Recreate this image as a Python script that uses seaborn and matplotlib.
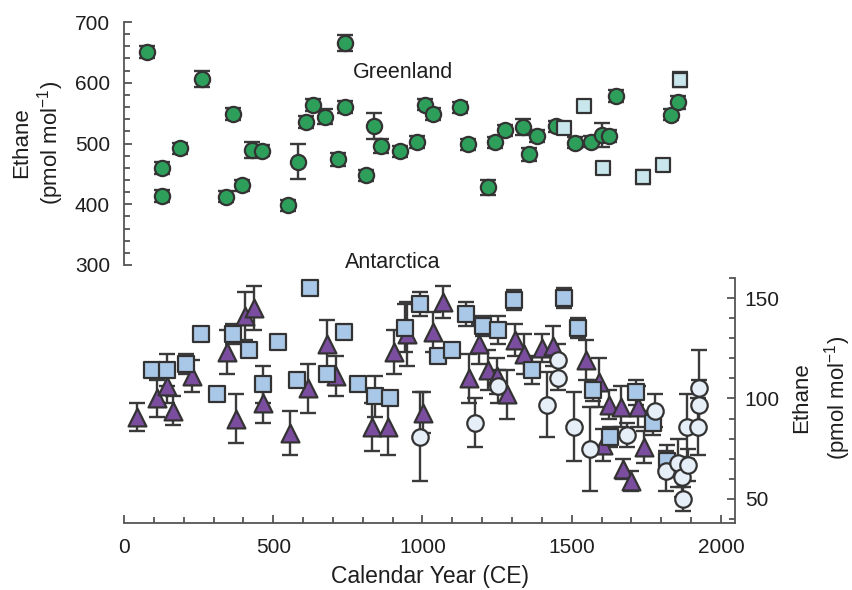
import numpy as np
import pandas as pd
import matplotlib
matplotlib.use("Agg")
import matplotlib.pyplot as plt
import seaborn as sns
from matplotlib.ticker import MultipleLocator

sns.set_theme(style="white")
plt.rcParams['font.family'] = ['Liberation Sans', 'DejaVu Sans']
plt.rcParams['mathtext.fontset'] = 'custom'
plt.rcParams['mathtext.rm'] = 'Liberation Sans'
plt.rcParams['mathtext.default'] = 'regular'

# ---------------- data ----------------
# Greenland (green circles)
gl_year = [76, 126, 126, 187, 260, 341, 366, 397, 430, 461, 548, 584, 610, 632, 673,
           716, 742, 742, 810, 839, 860, 923, 982, 1009, 1036, 1125, 1151, 1220, 1242,
           1276, 1338, 1357, 1382, 1446, 1511, 1566, 1601, 1626, 1648, 1831, 1857]
gl_val = [650, 459, 413, 492, 606, 412, 548, 431, 489, 488, 398, 470, 535, 564, 544,
          474, 666, 560, 448, 529, 496, 487, 502, 564, 549, 560, 499, 428, 502,
          522, 527, 482, 513, 528, 501, 503, 514, 512, 578, 547, 568]
gl_err = [10, 10, 10, 9, 13, 9, 10, 9, 13, 9, 9, 29, 10, 10, 12,
          11, 13, 10, 9, 21, 12, 9, 10, 9, 10, 9, 9, 12, 9,
          9, 13, 11, 10, 9, 9, 9, 19, 10, 10, 9, 11]

# Greenland (pale squares)
gs_year = [1475, 1542, 1604, 1739, 1807, 1863]
gs_val = [525, 562, 460, 445, 465, 605]
gs_err = [9, 9, 10, 12, 9, 12]

# Antarctica (purple triangles)
at_year = [45, 109, 143, 165, 227, 344, 375, 405, 435, 466, 556, 617, 679, 710, 830,
           885, 905, 947, 1003, 1036, 1069, 1156, 1190, 1218, 1249, 1282, 1310, 1341,
           1399, 1436, 1547, 1590, 1606, 1626, 1665, 1673, 1698, 1723, 1742]
at_val = [91, 100, 106, 94, 111, 123, 90, 141, 145, 98, 83, 105, 127, 111, 86,
          86, 123, 132, 93, 133, 148, 110, 127, 114, 111, 102, 129, 122,
          125, 126, 119, 108, 77, 97, 96, 65, 59, 96, 76]
at_err = [7, 9, 8, 7, 8, 11, 12, 12, 11, 10, 11, 12, 12, 10, 12,
          14, 11, 16, 10, 10, 8, 12, 10, 10, 9, 12, 8, 10,
          7, 10, 10, 12, 8, 7, 10, 5, 5, 10, 8]

# Antarctica (light blue squares)
as_year = [93, 143, 207, 258, 311, 364, 420, 466, 517, 579, 623, 681, 738, 785, 841,
           891, 941, 990, 1053, 1098, 1145, 1204, 1252, 1307, 1366, 1474, 1522, 1572,
           1628, 1717, 1773, 1818]
as_val = [114, 114, 117, 132, 102, 132, 124, 107, 128, 109, 155, 112, 133, 107, 101,
          100, 135, 147, 121, 124, 142, 136, 134, 149, 114, 150, 135, 104,
          81, 103, 88, 69]
as_err = [0, 8, 5, 0, 0, 5, 0, 9, 0, 0, 0, 0, 0, 0, 10,
          0, 12, 6, 0, 0, 6, 5, 7, 5, 7, 5, 5, 5,
          5, 6, 6, 8]

# Antarctica (pale circles)
ac_year = [992, 1176, 1254, 1417, 1455, 1453, 1508, 1561, 1684, 1779, 1816, 1857,
           1868, 1874, 1890, 1885, 1924, 1927, 1927]
ac_val = [81, 88, 106, 97, 119, 110, 86, 75, 82, 94, 64, 68, 61, 50, 67, 86, 86, 97, 105]
ac_err = [22, 12, 8, 16, 8, 6, 17, 21, 6, 8, 10, 12, 10, 6, 8, 16, 14, 12, 19]

x_ticks = [0, 500, 1000, 1500, 2000]
top_ticks = [300, 400, 500, 600, 700]
bot_ticks = [50, 100, 150]

# ---------------- figure ----------------
W, H = 853, 590
fig = plt.figure(figsize=(W / 100, H / 100), dpi=100)
ax_top = fig.add_axes([124 / W, 1 - 265 / H, (735 - 124) / W, (265 - 22) / H])
ax_bot = fig.add_axes([124 / W, 1 - 523 / H, (735 - 124) / W, (523 - 278) / H])
for ax in (ax_top, ax_bot):
    ax.set_facecolor('none')

edge = '#333333'
ecol = '#3a3a3a'
spine_col = '#555555'
txt = '#1e1e1e'


def draw(ax, xs, ys, es, marker, size, face, z):
    df = pd.DataFrame({'year': xs, 'ethane': ys, 'err': es})
    ax.errorbar(df['year'], df['ethane'], yerr=df['err'], fmt='none', ecolor=ecol,
                elinewidth=1.7, capsize=5.5, capthick=1.7, zorder=2, clip_on=False)
    sns.scatterplot(data=df, x='year', y='ethane', marker=marker, s=size, color=face,
                    edgecolor=edge, linewidth=1.6, ax=ax, zorder=z, clip_on=False,
                    legend=False)


draw(ax_top, gl_year, gl_val, gl_err, 'o', 120, '#2e9e5b', 3)
draw(ax_top, gs_year, gs_val, gs_err, 's', 105, '#c8e6ec', 3.1)

draw(ax_bot, at_year, at_val, at_err, '^', 165, '#7b4d9f', 3)
draw(ax_bot, as_year, as_val, as_err, 's', 130, '#a9c7e6', 3.1)
draw(ax_bot, ac_year, ac_val, ac_err, 'o', 140, '#e6eef7', 3.2)

# top axes styling
ax_top.set_xlim(0, 2047)
ax_top.set_ylim(300, 700)
for s in ['top', 'right', 'bottom']:
    ax_top.spines[s].set_visible(False)
ax_top.spines['left'].set_color(spine_col)
ax_top.spines['left'].set_linewidth(1.3)
ax_top.set_xticks([])
ax_top.set_yticks(top_ticks)
ax_top.yaxis.set_minor_locator(MultipleLocator(20))
ax_top.tick_params(axis='y', which='both', direction='in', left=True, right=False,
                   color=spine_col, width=1.3, labelsize=15, pad=10, labelcolor=txt)
ax_top.tick_params(axis='y', which='major', length=6)
ax_top.tick_params(axis='y', which='minor', length=4)
ax_top.set_xlabel('')
ax_top.set_ylabel('')

# bottom axes styling
ax_bot.set_xlim(0, 2047)
ax_bot.set_ylim(38, 160)
for s in ['top', 'left']:
    ax_bot.spines[s].set_visible(False)
for s in ['right', 'bottom']:
    ax_bot.spines[s].set_color(spine_col)
    ax_bot.spines[s].set_linewidth(1.3)
ax_bot.yaxis.tick_right()
ax_bot.set_yticks(bot_ticks)
ax_bot.yaxis.set_minor_locator(MultipleLocator(10))
ax_bot.set_xticks(x_ticks)
ax_bot.xaxis.set_minor_locator(MultipleLocator(100))
ax_bot.tick_params(axis='y', which='both', direction='in', right=True, left=False,
                   color=spine_col, width=1.3, labelsize=15, pad=7, labelcolor=txt)
ax_bot.tick_params(axis='x', which='both', direction='in', bottom=True, top=False,
                   color=spine_col, width=1.3, labelsize=15, pad=11, labelcolor=txt)
ax_bot.tick_params(which='major', length=6)
ax_bot.tick_params(which='minor', length=4)
ax_bot.set_xlabel('')
ax_bot.set_ylabel('')

# texts
fig.text(403 / W, 1 - 72 / H, 'Greenland', ha='center', va='center', fontsize=15.5,
         color=txt)
fig.text(393 / W, 1 - 262 / H, 'Antarctica', ha='center', va='center', fontsize=15.5,
         color=txt)
fig.text(430 / W, 1 - 576 / H, 'Calendar Year (CE)', ha='center', va='center',
         fontsize=16.5, color=txt)

fig.text(22 / W, 1 - 143 / H, 'Ethane', rotation=90, ha='center', va='center',
         fontsize=16, color=txt)
fig.text(51 / W, 1 - 143 / H, '(pmol mol$^{-1}$)', rotation=90, ha='center',
         va='center', fontsize=16, color=txt)
fig.text(802 / W, 1 - 398 / H, 'Ethane', rotation=90, ha='center', va='center',
         fontsize=16, color=txt)
fig.text(838 / W, 1 - 398 / H, '(pmol mol$^{-1}$)', rotation=90, ha='center',
         va='center', fontsize=16, color=txt)

fig.savefig('out.png', dpi=100)
